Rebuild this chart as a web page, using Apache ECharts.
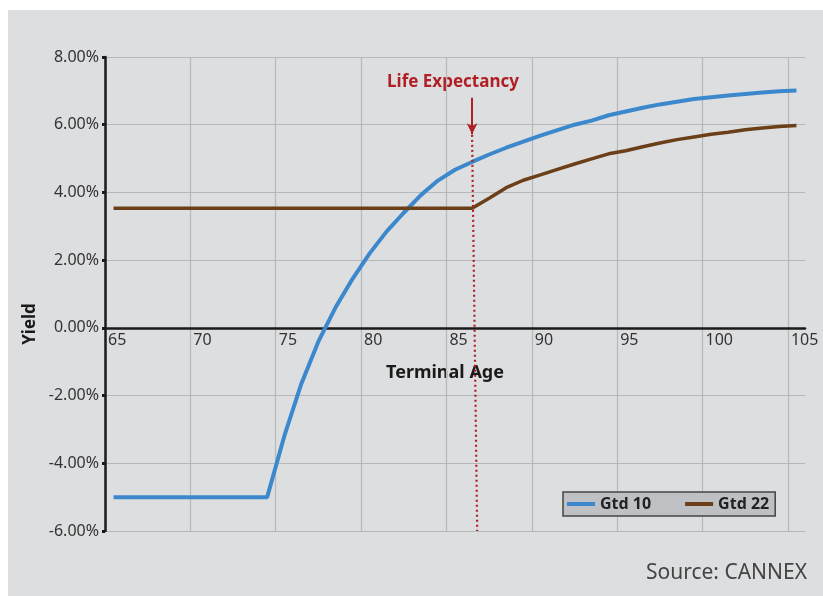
<!DOCTYPE html>
<html>
<head>
<meta charset="utf-8">
<script src="https://cdn.jsdelivr.net/npm/echarts@6/dist/echarts.min.js"></script>
<style>
  html, body { margin: 0; padding: 0; background: #ffffff; }
  #wrap { position: relative; width: 823px; height: 596px; background: #ffffff; }
  #chart { position: absolute; left: 8px; top: 10px; width: 815px; height: 586px; background: #dddee0; }
</style>
</head>
<body>
<div id="wrap"><div id="chart"></div></div>
<script>
// terminal ages on the x axis
const ages = [65, 66, 67, 68, 69, 70, 71, 72, 73, 74, 75, 76, 77, 78, 79, 80, 81, 82, 83, 84,
              85, 86, 87, 88, 89, 90, 91, 92, 93, 94, 95, 96, 97, 98, 99, 100, 101, 102, 103, 104, 105]

// yields in %
const gtd10 = [-5.0, -5.0, -5.0, -5.0, -5.0, -5.0, -5.0, -5.0, -5.0, -5.0, -3.2, -1.65, -0.4, 0.6, 1.45,
               2.2, 2.85, 3.4, 3.92, 4.35, 4.67, 4.9, 5.12, 5.32, 5.5, 5.68, 5.84, 6.0, 6.12, 6.28,
               6.39, 6.5, 6.6, 6.68, 6.76, 6.81, 6.86, 6.91, 6.95, 6.99, 7.01]
const gtd22 = [3.53, 3.53, 3.53, 3.53, 3.53, 3.53, 3.53, 3.53, 3.53, 3.53, 3.53, 3.53, 3.53, 3.53, 3.53,
               3.53, 3.53, 3.53, 3.53, 3.53, 3.53, 3.53, 3.83, 4.14, 4.36, 4.52, 4.68, 4.84, 4.99, 5.14,
               5.23, 5.35, 5.46, 5.56, 5.64, 5.72, 5.78, 5.85, 5.9, 5.95, 5.98]

const seriesNames = ['Gtd 10', 'Gtd 22']
const lifeExpectancy = 86

const font = '"Noto Sans", sans-serif'
const red = '#b01f24'

const yMin = -6
const yMax = 8
const gridTop = 47
const gridBottom = 65
const plotHeight = 586 - gridTop - gridBottom
// x axis sits on the 0% line: move it up from the bottom edge
const xAxisOffset = -plotHeight * (0 - yMin) / (yMax - yMin)

const chart = echarts.init(document.getElementById('chart'))

let option = {
    animation: false,
    textStyle: { fontFamily: font },
    grid: {
        left: 97,
        right: 18,
        top: gridTop,
        bottom: gridBottom
    },
    legend: {
        left: 555,
        top: 482,
        data: seriesNames,
        icon: 'rect',
        itemWidth: 28,
        itemHeight: 4,
        itemGap: 34,
        padding: [4, 6, 4, 4],
        backgroundColor: '#bfc0c3',
        borderColor: '#444',
        borderWidth: 1.5,
        borderRadius: 0,
        textStyle: { fontFamily: font, fontWeight: 'bold', fontSize: 16, color: '#222' }
    },
    //x轴
    xAxis: {
        type: 'value',
        min: 64.5,
        max: 105.5,
        interval: 5,
        position: 'bottom',
        offset: xAxisOffset,
        axisLine: { onZero: false, lineStyle: { color: '#1a1a1a', width: 2.5 } },
        axisTick: { show: false },
        axisLabel: {
            showMaxLabel: false,
            align: 'left',
            margin: 5,
            padding: [0, 0, 0, 3],
            fontSize: 16,
            color: '#333',
            formatter: (value) => `${Math.round(value + 0.5)}`
        },
        splitLine: { show: true, showMaxLine: false, lineStyle: { color: '#b6b7b9', width: 1.2 } }
    },
    yAxis: {
        type: 'value',
        min: yMin,
        max: yMax,
        interval: 2,
        axisLine: { show: true, lineStyle: { color: '#1a1a1a', width: 2.5 } },
        axisTick: { show: true, length: 3, lineStyle: { color: '#1a1a1a', width: 3 } },
        axisLabel: {
            margin: 6,
            fontSize: 16,
            color: '#333',
            formatter: (value) => `${value.toFixed(2)}%`
        },
        splitLine: { show: true, lineStyle: { color: '#b6b7b9', width: 1.2 } }
    },
    graphic: [
        {
            type: 'text',
            style: { text: 'Life Expectancy', fill: red, font: `bold 17px ${font}`, textAlign: 'center', textVerticalAlign: 'middle' },
            position: [445, 72]
        },
        {
            type: 'text',
            style: { text: 'Terminal Age', fill: '#1a1a1a', font: `bold 18px ${font}`, textAlign: 'center', textVerticalAlign: 'middle' },
            position: [437, 363]
        },
        {
            type: 'text',
            rotation: Math.PI / 2,
            style: { text: 'Yield', fill: '#1a1a1a', font: `bold 17px ${font}`, textAlign: 'center', textVerticalAlign: 'middle' },
            position: [22, 314]
        },
        {
            type: 'text',
            style: { text: 'Source: CANNEX', fill: '#444', font: `21px ${font}`, textAlign: 'right', textVerticalAlign: 'middle' },
            position: [799, 563]
        }
    ],
    series: [
        {
            name: seriesNames[0],
            type: 'line',
            symbol: 'none',
            color: '#3b88cc',
            lineStyle: { width: 4 },
            data: ages.map((a, i) => [a, gtd10[i]]),
            markLine: {
                silent: true,
                label: { show: false },
                data: [
                    [
                        { coord: [lifeExpectancy, 6.8], symbol: 'none', lineStyle: { type: 'solid', color: red, width: 2 } },
                        { coord: [lifeExpectancy, 5.72], symbol: 'arrow', symbolSize: [8, 11] }
                    ],
                    [
                        { coord: [lifeExpectancy, 5.7], symbol: 'none', lineStyle: { type: [2, 3], color: red, width: 2.2 } },
                        { coord: [lifeExpectancy + 0.3, -6], symbol: 'none' }
                    ]
                ]
            }
        },
        {
            name: seriesNames[1],
            type: 'line',
            symbol: 'none',
            color: '#6b3f17',
            lineStyle: { width: 3.5 },
            data: ages.map((a, i) => [a, gtd22[i]])
        }
    ]
}

chart.setOption(option)
</script>
</body>
</html>
